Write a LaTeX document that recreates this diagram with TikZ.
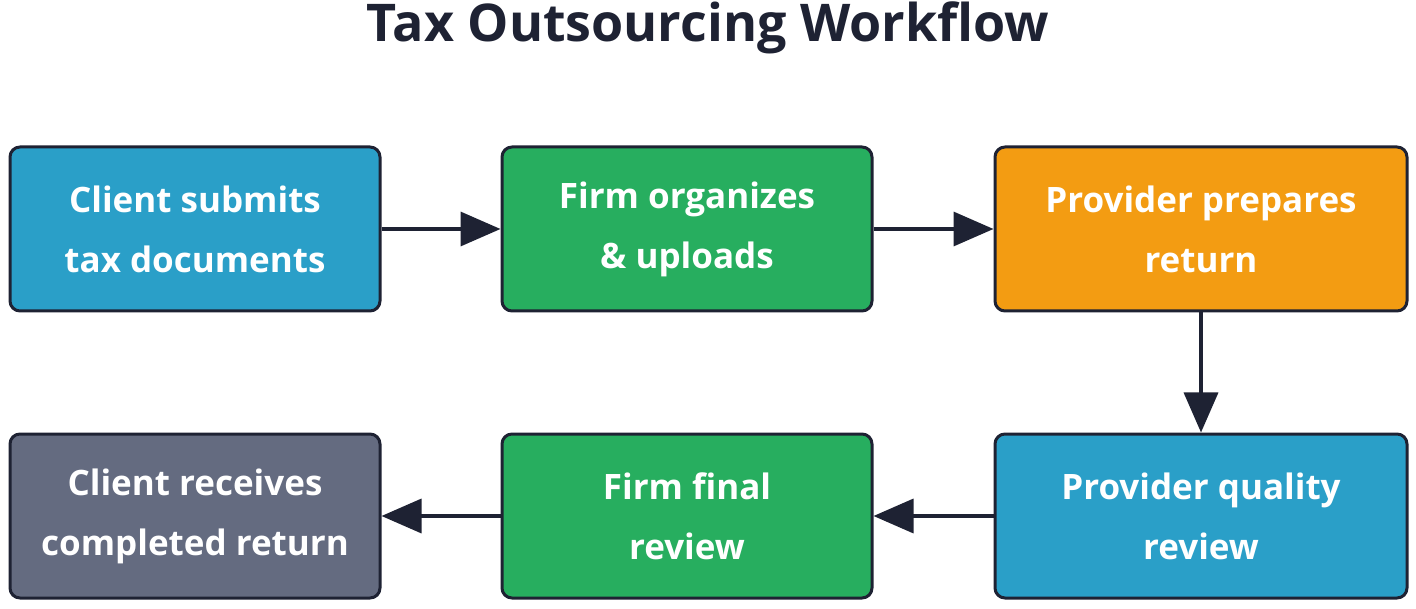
\documentclass[tikz,border=0pt]{standalone}
\usepackage{fontspec}
\setmainfont{Open Sans}
\usetikzlibrary{arrows.meta}
\definecolor{ink}{HTML}{1E2233}
\definecolor{stepblue}{HTML}{2A9FC8}
\definecolor{stepgreen}{HTML}{27AE5F}
\definecolor{steporange}{HTML}{F39C12}
\definecolor{stepgray}{HTML}{646B80}

\begin{document}
\begin{tikzpicture}
  [x=1pt,y=-1pt,
   stage/.style={draw=ink,line width=3pt,rounded corners=10pt,minimum height=164pt,
     align=center,text=white,font=\fontsize{35}{60}\selectfont\bfseries},
   flow/.style={draw=ink,line width=3.5pt,-{Triangle[length=40pt,width=34pt]}}]
  \useasboundingbox (0,0) rectangle (1416,609);
  \node[font=\fontsize{52}{60}\selectfont\bfseries,text=ink] (title) at (708,28) {Tax Outsourcing Workflow};

  \node[stage,fill=stepblue,minimum width=370pt] (n1) at (195,229) {Client submits\\tax documents};
  \node[stage,fill=stepgreen,minimum width=370pt] (n2) at (687,229) {Firm organizes\\\& uploads};
  \node[stage,fill=steporange,minimum width=412pt] (n3) at (1201,229) {Provider prepares\\return};
  \node[stage,fill=stepblue,minimum width=412pt] (n4) at (1201,516) {Provider quality\\review};
  \node[stage,fill=stepgreen,minimum width=370pt] (n5) at (687,516) {Firm final\\review};
  \node[stage,fill=stepgray,minimum width=370pt] (n6) at (195,516) {Client receives\\completed return};

  \foreach \from/\to in {n1/n2,n2/n3,n3/n4,n4/n5,n5/n6}
    \draw[flow] (\from) -- (\to);
\end{tikzpicture}
\end{document}
